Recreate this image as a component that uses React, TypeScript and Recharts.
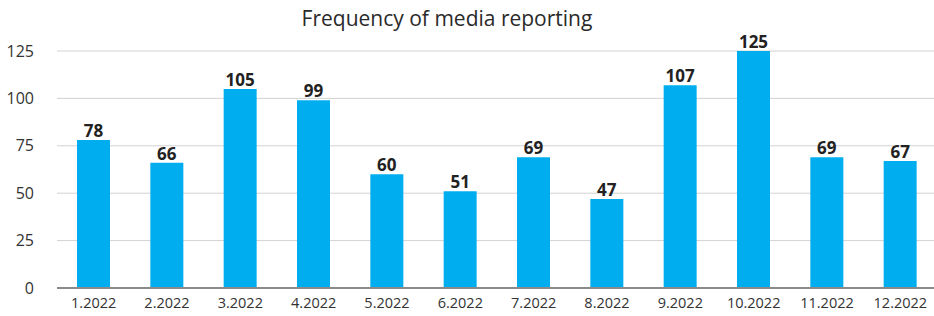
import { BarChart, Bar, XAxis, YAxis, CartesianGrid, LabelList } from "recharts"

const months = ["1.2022", "2.2022", "3.2022", "4.2022", "5.2022", "6.2022", "7.2022", "8.2022", "9.2022", "10.2022", "11.2022", "12.2022"]
const reports = [78, 66, 105, 99, 60, 51, 69, 47, 107, 125, 69, 67]
const yTicks = [0, 25, 50, 75, 100, 125]

const data = months.map((month, i) => ({ month, reports: reports[i] }))

const font = "'Open Sans', 'Noto Sans', sans-serif"

export default function App() {
  return (
    <div style={{ position: "absolute", left: 0, top: 0, width: 934, height: 316, fontFamily: font }}>
      <div
        style={{
          position: "absolute",
          left: 0,
          top: 4,
          width: 894,
          textAlign: "center",
          fontSize: 21,
          color: "#2a2a2a",
        }}
      >
        Frequency of media reporting
      </div>
      <BarChart
        width={934}
        height={316}
        data={data}
        margin={{ top: 51, right: -3, left: 0, bottom: 0 }}
      >
        <XAxis
          dataKey="month"
          height={28}
          tickLine={false}
          axisLine={{ stroke: "#8a8a8a", strokeWidth: 2 }}
          tick={{ fill: "#333", fontSize: 14.5, fontFamily: font }}
          tickMargin={4}
          interval={0}
        />
        <YAxis
          width={57}
          domain={[0, 125]}
          ticks={yTicks}
          tickLine={false}
          axisLine={false}
          tickSize={0}
          tickMargin={23}
          tick={{ fill: "#333", fontSize: 16, fontFamily: font }}
        />
        <Bar dataKey="reports" fill="#00AEEF" barSize={33} isAnimationActive={false}>
          <LabelList
            dataKey="reports"
            position="top"
            offset={3}
            style={{ fill: "#222", fontSize: 17, fontWeight: 700, fontFamily: font }}
          />
        </Bar>
        <CartesianGrid vertical={false} stroke="#000" strokeOpacity={0.18} />
      </BarChart>
    </div>
  )
}
